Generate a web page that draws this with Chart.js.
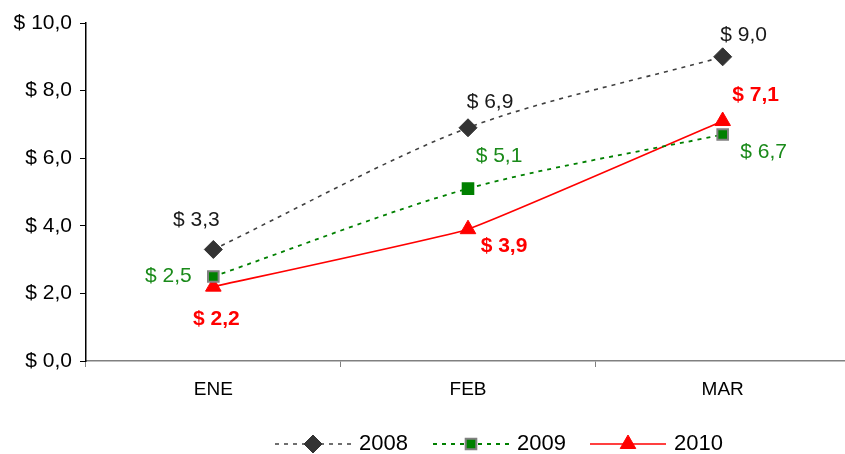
<!DOCTYPE html>
<html>
<head>
<meta charset="utf-8">
<script src="https://cdn.jsdelivr.net/npm/chart.js@4.4.1/dist/chart.umd.min.js"></script>
<style>
  html, body { margin: 0; padding: 0; background: #fff; overflow: hidden; }
  #wrap { width: 860px; height: 454px; }
</style>
</head>
<body>
<div id="wrap"><canvas id="myChart" width="860" height="454"></canvas></div>
<script>
// data
const months = ['ENE', 'FEB', 'MAR'];
const years = ['2008', '2009', '2010'];
const v2008 = [3.3, 6.9, 9.0];
const v2009 = [2.5, 5.1, 6.7];
const v2010 = [2.2, 3.9, 7.1];
const yTicks = [0, 2, 4, 6, 8, 10];

const fontFam = '"Liberation Sans", Arial, sans-serif';

const fmt = v => '$ ' + v.toFixed(1).replace('.', ',');

// label offsets from the marker (px), one per point
const labelOffsets = [
  [[-17, -29], [22, -26], [21, -22]],
  [[-45, 0], [31, -32], [41, 18]],
  [[3, 33], [36, 17], [33, -26]]
];

const dataLabels = {
  id: 'dataLabels',
  afterDatasetsDraw(chart) {
    const c = chart.ctx;
    c.save();
    c.textAlign = 'center';
    c.textBaseline = 'middle';
    chart.data.datasets.forEach((ds, i) => {
      const meta = chart.getDatasetMeta(i);
      c.fillStyle = ds.labelColor;
      c.font = (ds.labelBold ? 'bold ' : '') + '21px ' + fontFam;
      meta.data.forEach((pt, j) => {
        const off = labelOffsets[i][j];
        c.fillText(fmt(ds.data[j]), pt.x + off[0], pt.y + off[1]);
      });
    });
    c.restore();
  }
};

// legend with a line sample and marker, like the original
const lineLegend = {
  id: 'lineLegend',
  afterDraw(chart) {
    const c = chart.ctx;
    const y = 444;
    const starts = [275, 433, 590];
    c.save();
    c.font = '22px ' + fontFam;
    c.textBaseline = 'middle';
    chart.data.datasets.forEach((ds, i) => {
      const x0 = starts[i], x1 = x0 + 76;
      c.strokeStyle = ds.borderColor;
      c.lineWidth = ds.borderWidth;
      c.setLineDash(ds.borderDash || []);
      c.beginPath();
      c.moveTo(x0, y);
      c.lineTo(x1, y);
      c.stroke();
      c.setLineDash([]);
      c.fillStyle = ds.pointBackgroundColor;
      c.strokeStyle = Array.isArray(ds.pointBorderColor) ? ds.pointBorderColor[0] : ds.pointBorderColor;
      c.lineWidth = ds.pointBorderWidth;
      Chart.helpers.drawPoint(c, {
        pointStyle: ds.pointStyle,
        radius: ds.pointRadius,
        rotation: 0,
        borderWidth: ds.pointBorderWidth
      }, (x0 + x1) / 2, y);
      c.fillStyle = '#000';
      c.fillText(years[i], x1 + 8, y);
    });
    c.restore();
  }
};

const ctx = document.getElementById('myChart');

new Chart(ctx, {
  type: 'line',
  data: {
    labels: months,
    datasets: [
      {
        label: years[0],
        data: v2008,
        borderColor: '#404040',
        borderWidth: 1.6,
        borderDash: [4, 5],
        tension: 0.3,
        pointStyle: 'rectRot',
        pointRadius: 9,
        pointBackgroundColor: '#333333',
        pointBorderColor: '#333333',
        pointBorderWidth: 1,
        labelColor: '#1a1a1a',
        labelBold: false
      },
      {
        label: years[1],
        data: v2009,
        borderColor: '#008000',
        borderWidth: 1.8,
        borderDash: [4, 5],
        tension: 0.3,
        pointStyle: 'rect',
        pointRadius: 7.5,
        pointBackgroundColor: '#008000',
        pointBorderColor: ['#808080', '#008000', '#808080'],
        pointBorderWidth: 2,
        labelColor: '#1a8a1a',
        labelBold: false
      },
      {
        label: years[2],
        data: v2010,
        borderColor: '#ff0000',
        borderWidth: 1.6,
        tension: 0.1,
        pointStyle: 'triangle',
        pointRadius: 9,
        pointBackgroundColor: '#ff0000',
        pointBorderColor: '#ff0000',
        pointBorderWidth: 1,
        labelColor: '#ff0000',
        labelBold: true
      }
    ]
  },
  options: {
    responsive: false,
    animation: false,
    layout: { padding: { top: 23, right: 6, left: 0, bottom: 0 } },
    plugins: {
      legend: { display: false },
      tooltip: { enabled: false }
    },
    scales: {
      x: {
        offset: true,
        afterFit(scale) { scale.height = 93; },
        grid: {
          offset: true,
          drawOnChartArea: false,
          tickLength: 6,
          tickColor: '#808080',
          tickWidth: 1
        },
        border: { color: '#808080', width: 1.5 },
        ticks: {
          color: '#000',
          padding: 11,
          font: { family: fontFam, size: 19 }
        }
      },
      y: {
        min: 0,
        max: 10,
        afterFit(scale) { scale.width = 86; },
        afterBuildTicks(scale) { scale.ticks = yTicks.map(v => ({ value: v })); },
        grid: {
          drawOnChartArea: false,
          tickLength: 6,
          tickColor: '#000',
          tickWidth: 1
        },
        border: { color: '#000', width: 1.5 },
        ticks: {
          color: '#000',
          padding: 8,
          font: { family: fontFam, size: 21 },
          callback: v => fmt(v)
        }
      }
    }
  },
  plugins: [dataLabels, lineLegend]
});
</script>
</body>
</html>
